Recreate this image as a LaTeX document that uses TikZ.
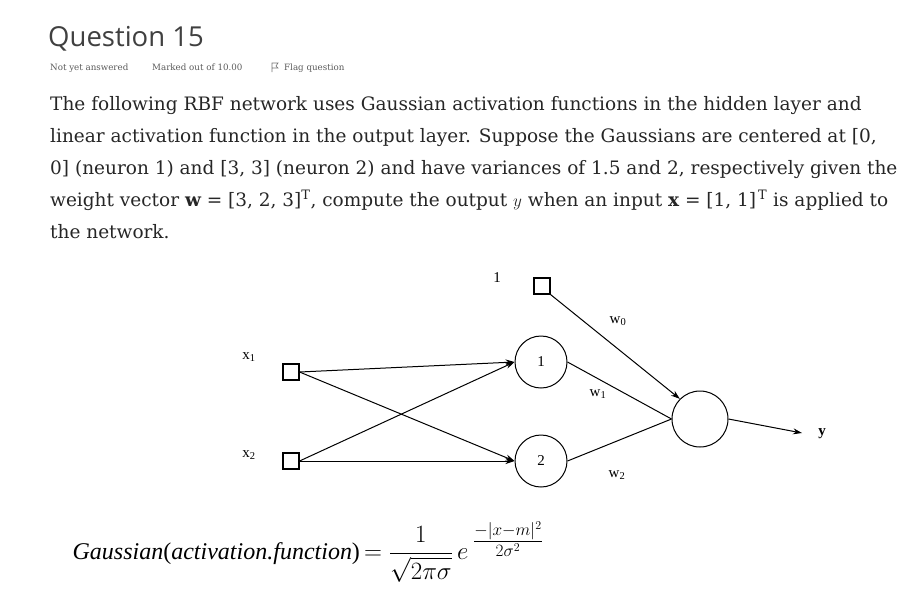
\documentclass[tikz,border=0pt]{standalone}
\usepackage{fontspec}
\usepackage{amsmath}
\setmainfont{DejaVu Serif}
\newfontfamily\titlefont{Open Sans}
\newfontfamily\tnr{Liberation Serif}
\usetikzlibrary{arrows.meta}
\begin{document}
\begin{tikzpicture}[x=1pt,y=-1pt,
  txt/.style={anchor=base west,inner sep=0pt,text=black!85},
  sq/.style={draw,minimum size=16pt,inner sep=0pt,line width=1.1pt},
  neu/.style={draw,circle,minimum size=52pt,inner sep=0pt,line width=1pt,font=\tnr\fontsize{15}{15}\selectfont},
  lab/.style={font=\tnr\fontsize{15}{15}\selectfont,inner sep=0pt},
  conn/.style={line width=1pt,-{Stealth[length=9pt,width=6pt]}},
  plain/.style={line width=1pt}]
\useasboundingbox (0,0) rectangle (915,608);
\node[txt,text=black!75,font=\titlefont\fontsize{27.5}{27.5}\selectfont] (title) at (48,46) {Question 15};
\node[txt,text=black!65,font=\fontsize{8.7}{9}\selectfont] (m1) at (50,70) {Not yet answered};
\node[txt,text=black!65,font=\fontsize{8.7}{9}\selectfont] (m2) at (152,70) {Marked out of 10.00};
\draw[black!55,line width=0.6pt] (272,72) -- (272,63) -- (278,63) -- (276,66) -- (278,68) -- (272,68);
\node[txt,text=black!65,font=\fontsize{8.7}{9}\selectfont] (m3) at (284,70) {Flag question};
\begin{scope}[every node/.style={txt,font=\fontsize{18.5}{20}\selectfont}]
\node (l1) at (50,110) {The following RBF network uses Gaussian activation functions in the hidden layer and};
\node (l2) at (50,142) {linear activation function in the output layer. Suppose the Gaussians are centered at [0,};
\node (l3) at (50,174) {0] (neuron 1) and [3, 3] (neuron 2) and have variances of 1.5 and 2, respectively given the};
\node (l4) at (50,206) {weight vector $\mathbf{w}$ = [3, 2, 3]$^{\mathrm{T}}$, compute the output $y$ when an input $\mathbf{x}$ = [1, 1]$^{\,\mathrm{T}}$ is applied to};
\node (l5) at (50,238) {the network.};
\end{scope}
\node[sq] (s0) at (542,286) {};
\node[sq] (s1) at (291,372) {};
\node[sq] (s2) at (291,461) {};
\node[neu] (n1) at (541,362) {1};
\node[neu] (n2) at (541,461) {2};
\node[neu,minimum size=56pt] (o) at (700,419) {};
\coordinate (y) at (802,433);
\node[lab] (lb1) at (497,278) {1};
\node[lab] (lx1) at (249,357) {x\textsubscript{1}};
\node[lab] (lx2) at (249,455) {x\textsubscript{2}};
\node[lab] (lw0) at (618,321) {w\textsubscript{0}};
\node[lab] (lw1) at (598,394) {w\textsubscript{1}};
\node[lab] (lw2) at (617,475) {w\textsubscript{2}};
\node[lab,font=\tnr\bfseries\fontsize{15}{15}\selectfont] (ly) at (822,434) {y};
\draw[conn] (s1.east) -- (n1.west);
\draw[conn] (s1.east) -- (n2.west);
\draw[conn] (s2.east) -- (n2.west);
\draw[conn] (s2.east) -- (n1.west);
\draw[conn] (s0.south east) -- (o.north west);
\draw[plain] (n1.east) -- (o.west);
\draw[plain] (n2.east) -- (o.west);
\draw[conn] (o.east) -- (y);
\node[inner sep=0pt,font=\fontsize{24}{27}\selectfont] (f) at (308,552)
 {{\tnr\itshape Gaussian}{\tnr(}{\tnr\itshape activation.function}{\tnr)}$\,=\dfrac{1}{\sqrt{2\pi\sigma}}\,e^{\;\raisebox{3pt}{$\frac{-|x-m|^2}{2\sigma^2}$}}$};
\end{tikzpicture}
\end{document}
